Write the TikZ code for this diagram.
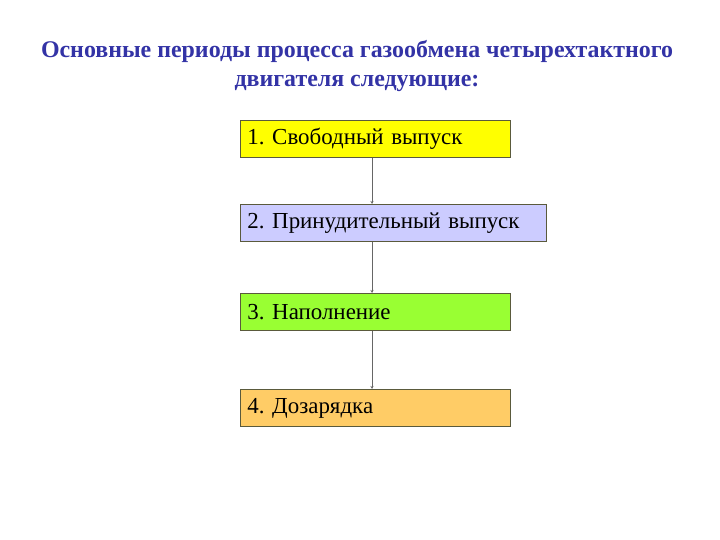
\documentclass[tikz,border=0pt]{standalone}
\usepackage{fontspec}
\setmainfont{Liberation Serif}
\usetikzlibrary{arrows.meta}

\definecolor{titleblue}{HTML}{3333A6}
\definecolor{edge}{HTML}{5A5A3C}
\definecolor{c1}{HTML}{FFFF00}
\definecolor{c2}{HTML}{CCCCFF}
\definecolor{c3}{HTML}{99FF33}
\definecolor{c4}{HTML}{FFCC66}

\tikzset{
    period/.style={draw=edge, line width=0.8pt, anchor=north west, minimum height=37bp,
        inner xsep=7bp, inner ysep=0pt, text width=256bp, align=left,
        font=\fontsize{23}{25}\selectfont},
    link/.style={draw=black!60, line width=1pt, -{Stealth[length=3pt,width=3pt]}}
}

\begin{document}
\frenchspacing
\begin{tikzpicture}[x=1bp, y=-1bp]
        \useasboundingbox (0,0) rectangle (720,540);

        \node[font=\fontsize{24}{29}\bfseries, text=titleblue, align=center](title) at (357,66)
            {Основные периоды процесса газообмена четырехтактного\\двигателя следующие:};

        \node[period, fill=c1](p1) at (240,120){1. Свободный выпуск};
        \node[period, fill=c2, text width=292bp](p2) at (240,204){2. Принудительный выпуск};
        \node[period, fill=c3](p3) at (240,293){3. Наполнение};
        \node[period, fill=c4](p4) at (240,389){4. Дозарядка};

        \draw[link]([xshift=132bp]p1.south west)--([xshift=132bp]p2.north west);
        \draw[link]([xshift=132bp]p2.south west)--([xshift=132bp]p3.north west);
        \draw[link]([xshift=132bp]p3.south west)--([xshift=132bp]p4.north west);
    \end{tikzpicture}
\end{document}
